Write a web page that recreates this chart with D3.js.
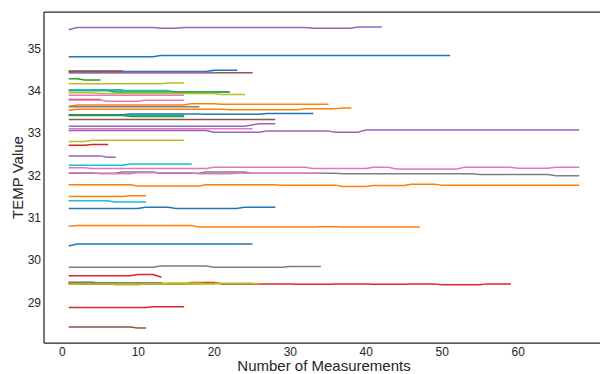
<!DOCTYPE html>
<html>
<head>
<meta charset="utf-8">
<script src="https://cdn.jsdelivr.net/npm/d3@7"></script>
<style>
  body { margin: 0; background: #fff; }
  text { font-family: "Liberation Sans", Arial, sans-serif; fill: #262626; }
</style>
</head>
<body>
<svg id="chart" width="600" height="374"></svg>
<script>
// each series: runs of [count, value] starting at measurement 1
const blueSeries = [
  [[12, 34.80], [39, 34.83]],
  [[19, 34.45], [4, 34.48]],
  [[8, 33.43], [10, 33.45], [8, 33.44], [7, 33.46]],
  [[10, 31.22], [4, 31.25], [9, 31.22], [5, 31.25]],
  [[1, 30.34], [24, 30.38]]
];
const orangeSeries = [
  [[1, 33.63], [15, 33.66], [4, 33.69], [15, 33.68]],
  [[1, 33.54], [20, 33.56], [10, 33.55], [5, 33.57], [2, 33.59]],
  [[9, 31.78], [9, 31.75], [10, 31.78], [8, 31.77], [4, 31.74], [5, 31.76], [4, 31.79], [19, 31.77]],
  [[8, 31.50], [3, 31.52]],
  [[1, 30.80], [16, 30.82], [16, 30.78], [3, 30.79], [11, 30.78]]
];
const greenSeries = [
  [[2, 34.28], [3, 34.25]],
  [[6, 34.00], [16, 33.97]],
  [[8, 33.41], [8, 33.39]],
  [[3, 29.44], [3, 29.46], [3, 29.43], [4, 29.46], [4, 29.44], [8, 29.45]],
  [[10, 29.46]]
];
const redSeries = [
  [[5, 33.79]],
  [[3, 32.71], [3, 32.73]],
  [[9, 29.63], [3, 29.66], [1, 29.60]],
  [[16, 29.44], [4, 29.47], [10, 29.44], [5, 29.43], [5, 29.44], [5, 29.43], [4, 29.44], [6, 29.42], [4, 29.44]],
  [[11, 28.88], [5, 28.90]]
];
const purpleSeries = [
  [[1, 35.44], [5, 35.49], [6, 35.49], [3, 35.47], [17, 35.49], [6, 35.47], [4, 35.50]],
  [[20, 34.43]],
  [[24, 33.16], [1, 33.19], [3, 33.22]],
  [[19, 33.06], [7, 33.02], [9, 33.05], [4, 33.02], [29, 33.07]],
  [[5, 32.46], [2, 32.43]]
];
const brownSeries = [
  [[25, 34.42]],
  [[28, 33.32]],
  [[4, 29.48], [4, 29.46]],
  [[9, 28.42], [2, 28.40]],
  [[8, 34.45]]
];
const pinkSeries = [
  [[16, 33.89]],
  [[5, 33.78], [5, 33.75], [6, 33.77]],
  [[25, 33.10]],
  [[3, 32.18], [16, 32.16], [13, 32.19], [8, 32.16], [3, 32.19], [9, 32.15], [7, 32.19], [5, 32.17], [4, 32.19]],
  [[4, 32.06], [5, 32.04], [8, 32.06], [5, 32.04], [12, 32.05]]
];
const graySeries = [
  [[8, 34.46]],
  [[18, 33.62]],
  [[7, 32.05], [5, 32.08], [6, 32.05], [6, 32.08], [8, 32.05], [4, 32.05], [18, 32.04], [10, 32.02], [4, 31.99]],
  [[12, 29.83], [7, 29.86], [10, 29.83], [5, 29.85]],
  [[13, 29.46]]
];
const oliveSeries = [
  [[13, 34.16], [3, 34.18]],
  [[4, 33.95], [16, 33.93], [4, 33.91]],
  [[3, 32.80], [13, 32.83]],
  [[2, 29.43], [4, 29.46], [4, 29.42], [3, 29.44], [5, 29.46], [8, 29.45]],
  [[20, 29.44]]
];
const cyanSeries = [
  [[14, 34.00], [8, 33.97]],
  [[16, 33.42]],
  [[8, 32.24], [9, 32.27]],
  [[6, 31.40], [5, 31.37]],
  [[8, 34.02]]
];
const xTicks = [0, 10, 20, 30, 40, 50, 60];
const yTicks = [29, 30, 31, 32, 33, 34, 35];

const byColor = [blueSeries, orangeSeries, greenSeries, redSeries, purpleSeries,
  brownSeries, pinkSeries, graySeries, oliveSeries, cyanSeries];

// interleave so the colour cycle matches the plotting order
const lines = [];
for (let k = 0; k < 5; k++) {
  byColor.forEach((group, c) => {
    const pts = [];
    group[k].forEach(([n, v]) => {
      for (let j = 0; j < n; j++) pts.push({x: pts.length + 1, y: v});
    });
    lines.push({color: d3.schemeCategory10[c], pts: pts});
  });
}

const svg = d3.select("#chart");
const margin = {left: 44, top: 12, right: -4, bottom: 31};
const W = 600 - margin.left - margin.right;
const H = 374 - margin.top - margin.bottom;

const all = lines.flatMap(l => l.pts);
const xExt = d3.extent(all, d => d.x), yExt = d3.extent(all, d => d.y);
const xPad = (xExt[1] - xExt[0]) * 0.05, yPad = (yExt[1] - yExt[0]) * 0.05;

const x = d3.scaleLinear().domain([xExt[0] - xPad, xExt[1] + xPad]).range([0, W]);
const y = d3.scaleLinear().domain([yExt[0] - yPad, yExt[1] + yPad]).range([H, 0]);

const g = svg.append("g").attr("transform", `translate(${margin.left},${margin.top})`);

const line = d3.line().x(d => x(d.x)).y(d => y(d.y));

g.selectAll(".series").data(lines).enter()
  .append("path")
  .attr("class", "series")
  .attr("fill", "none")
  .attr("stroke", d => d.color)
  .attr("stroke-width", 1.5)
  .attr("stroke-linejoin", "round")
  .attr("stroke-linecap", "square")
  .attr("d", d => line(d.pts));

// spines
g.append("line").attr("x1", 0).attr("x2", 0).attr("y1", 0).attr("y2", H)
  .attr("stroke", "#262626").attr("stroke-width", 1.25);
g.append("line").attr("x1", 0).attr("x2", W).attr("y1", H).attr("y2", H)
  .attr("stroke", "#262626").attr("stroke-width", 1.25);
g.append("line").attr("x1", 0).attr("x2", W).attr("y1", 0).attr("y2", 0)
  .attr("stroke", "#262626").attr("stroke-width", 1.25);

const xAxis = g.append("g").attr("transform", `translate(0,${H})`)
  .call(d3.axisBottom(x).tickValues(xTicks).tickSize(0).tickPadding(4));
const yAxis = g.append("g")
  .call(d3.axisLeft(y).tickValues(yTicks).tickSize(0).tickPadding(3));
[xAxis, yAxis].forEach(a => {
  a.select(".domain").remove();
  a.selectAll("text").attr("font-size", 12).attr("fill", "#262626")
    .style("font-family", "'Liberation Sans', Arial, sans-serif");
});

svg.append("text")
  .attr("x", margin.left + W / 2)
  .attr("y", 371)
  .attr("text-anchor", "middle")
  .attr("font-size", 15)
  .text("Number of Measurements");

svg.append("text")
  .attr("transform", `translate(23,${margin.top + H / 2}) rotate(-90)`)
  .attr("text-anchor", "middle")
  .attr("font-size", 15)
  .text("TEMP Value");
</script>
</body>
</html>
